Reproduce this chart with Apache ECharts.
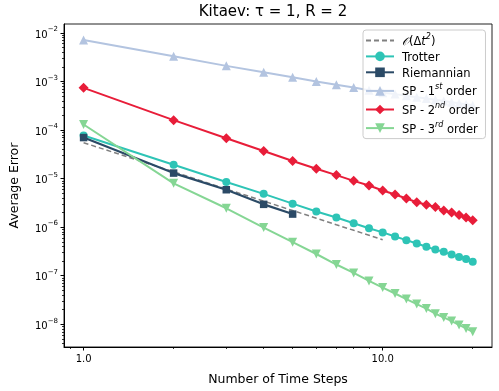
<!DOCTYPE html>
<html>
<head>
<meta charset="utf-8">
<script src="https://cdn.jsdelivr.net/npm/echarts@6/dist/echarts.min.js"></script>
<style>
  html, body { margin: 0; padding: 0; background: #fff; }
  #chart { width: 499px; height: 391px; }
</style>
</head>
<body>
<div id="chart"></div>
<script>
// ---- data ----
const steps = [1, 2, 3, 4, 5, 6, 7, 8, 9, 10, 11, 12, 13, 14, 15, 16, 17, 18, 19, 20];
const riemannSteps = [1, 2, 3, 4, 5];
const refSteps = [1, 2, 3, 4, 5, 6, 7, 8, 9, 10];

const refOrder2 = [5.5e-5, 1.38e-5, 6.1e-6, 3.45e-6, 2.2e-6, 1.53e-6, 1.12e-6, 8.6e-7, 6.8e-7, 5.5e-7];
const trotter = [7.7e-5, 1.93e-5, 8.5e-6, 4.85e-6, 3.05e-6, 2.1e-6, 1.58e-6, 1.2e-6, 9.5e-7, 7.8e-7,
  6.4e-7, 5.4e-7, 4.6e-7, 3.95e-7, 3.45e-7, 3.1e-7, 2.72e-7, 2.42e-7, 2.2e-7, 1.95e-7];
const riemannian = [7.0e-5, 1.3e-5, 5.9e-6, 2.95e-6, 1.86e-6];
const sp1 = [7.2e-3, 3.3e-3, 2.1e-3, 1.55e-3, 1.22e-3, 1.0e-3, 8.6e-4, 7.5e-4, 6.6e-4, 5.9e-4,
  5.5e-4, 5.1e-4, 4.75e-4, 4.45e-4, 4.2e-4, 3.95e-4, 3.75e-4, 3.55e-4, 3.4e-4, 3.25e-4];
const sp2 = [7.4e-4, 1.6e-4, 6.8e-5, 3.7e-5, 2.3e-5, 1.6e-5, 1.18e-5, 9.0e-6, 7.2e-6, 5.7e-6,
  4.7e-6, 3.9e-6, 3.25e-6, 2.9e-6, 2.6e-6, 2.2e-6, 2.0e-6, 1.78e-6, 1.58e-6, 1.38e-6];
const sp3 = [1.3e-4, 8.0e-6, 2.45e-6, 9.8e-7, 4.9e-7, 2.8e-7, 1.7e-7, 1.14e-7, 7.8e-8, 5.7e-8,
  4.3e-8, 3.3e-8, 2.6e-8, 2.1e-8, 1.65e-8, 1.38e-8, 1.16e-8, 9.7e-9, 8.2e-9, 7.0e-9];

const xMajor = [1, 10];
const yMajor = [1e-8, 1e-7, 1e-6, 1e-5, 1e-4, 1e-3, 1e-2];

const xMin = 0.86, xMax = 23.2;
const yMin = 3.4e-9, yMax = 1.53e-2;

// minor tick positions (2..9 of each decade)
function minorTicks(lo, hi) {
  const out = [];
  for (let k = -10; k <= 2; k++) {
    for (let m = 2; m <= 9; m++) {
      const v = m * Math.pow(10, k);
      if (v >= lo && v <= hi) out.push(v);
    }
  }
  return out;
}

const font = 'DejaVu Sans';

const chart = echarts.init(document.getElementById('chart'));

function pairs(xs, ys) {
  return xs.map((x, i) => [x, ys[i]]);
}

const legendRich = {
  n: { fontFamily: font, fontSize: 11.5, color: '#000', lineHeight: 15, verticalAlign: 'bottom' },
  i: { fontFamily: font, fontSize: 11.5, color: '#000', lineHeight: 15, verticalAlign: 'bottom', fontStyle: 'italic' },
  s: { fontFamily: font, fontSize: 8, color: '#000', lineHeight: 9, verticalAlign: 'top', fontStyle: 'italic' }
};

const legendLabels = {
  'ref': '{i|𝒪}{n|(Δ}{i|t}{s|2}{n|)}',
  'Trotter': '{n|Trotter}',
  'Riemannian': '{n|Riemannian}',
  'SP1': '{n|SP - 1}{s|st}{n| order}',
  'SP2': '{n|SP - 2}{s|nd}{n| order}',
  'SP3': '{n|SP - 3}{s|rd}{n| order}'
};

const axisCommon = {
  type: 'log',
  logBase: 10,
  splitLine: { show: false },
  minorTick: { show: false }
};

chart.setOption({
  animation: false,
  backgroundColor: '#fff',
  title: {
    text: 'Kitaev: τ = 1, R = 2',
    left: 273,
    textAlign: 'center',
    top: 5,
    padding: 0,
    textStyle: { fontFamily: font, fontSize: 15, fontWeight: 'normal', color: '#000' }
  },
  grid: {
    left: 54, right: 7, top: 24, bottom: 41,
    show: true, borderColor: '#222', borderWidth: 1, backgroundColor: 'transparent'
  },
  legend: {
    orient: 'vertical',
    left: 363,
    top: 30,
    padding: [3, 6, 3, 2],
    itemWidth: 28,
    itemHeight: 12,
    itemGap: 3.6,
    backgroundColor: 'rgba(255,255,255,0.8)',
    borderColor: '#cccccc',
    borderWidth: 1,
    borderRadius: 3,
    data: [
      { name: 'ref', itemStyle: { opacity: 0 } },
      'Trotter', 'Riemannian', 'SP1', 'SP2', 'SP3'
    ],
    formatter: name => legendLabels[name],
    textStyle: { fontFamily: font, fontSize: 11.5, color: '#000', padding: [0, 0, 0, 3], rich: legendRich }
  },
  xAxis: [
    Object.assign({}, axisCommon, {
      min: xMin, max: xMax,
      name: 'Number of Time Steps',
      nameLocation: 'middle',
      nameGap: 26,
      nameTextStyle: { fontFamily: font, fontSize: 12.5, color: '#000' },
      axisLine: { show: true, lineStyle: { color: '#000', width: 1 } },
      axisTick: { show: true, length: 3.5, lineStyle: { color: '#000' }, customValues: xMajor },
      axisLabel: {
        fontFamily: font, fontSize: 10, color: '#000', margin: 7,
        customValues: xMajor,
        formatter: v => v.toFixed(1)
      }
    }),
    Object.assign({}, axisCommon, {
      min: xMin, max: xMax,
      position: 'bottom',
      axisLine: { show: false },
      axisTick: { show: true, length: 2, lineStyle: { color: '#000', width: 0.8 }, customValues: minorTicks(xMin, xMax) },
      axisLabel: { show: false }
    })
  ],
  yAxis: [
    Object.assign({}, axisCommon, {
      min: yMin, max: yMax,
      position: 'left',
      name: 'Average Error',
      nameLocation: 'middle',
      nameGap: 43,
      nameTextStyle: { fontFamily: font, fontSize: 12.5, color: '#000' },
      axisLine: { show: true, lineStyle: { color: '#000', width: 1 } },
      axisTick: { show: true, length: 3.5, lineStyle: { color: '#000' }, customValues: yMajor },
      axisLabel: {
        margin: 6,
        customValues: yMajor,
        formatter: v => '{b|10}{s|−' + Math.round(-Math.log10(v)) + '}',
        rich: {
          b: { fontFamily: font, fontSize: 10, color: '#000', lineHeight: 14, verticalAlign: 'bottom' },
          s: { fontFamily: font, fontSize: 7, color: '#000', lineHeight: 8, verticalAlign: 'top' }
        }
      }
    }),
    Object.assign({}, axisCommon, {
      min: yMin, max: yMax,
      position: 'left',
      axisLine: { show: false },
      axisTick: { show: true, length: 2, lineStyle: { color: '#000', width: 0.8 }, customValues: minorTicks(yMin, yMax) },
      axisLabel: { show: false }
    })
  ],
  series: [
    {
      name: 'ref', type: 'line', data: pairs(refSteps, refOrder2),
      symbol: 'none', color: '#808080',
      lineStyle: { width: 1.5, type: [5, 3], color: '#808080' }
    },
    {
      name: 'Trotter', type: 'line', data: pairs(steps, trotter),
      symbol: 'circle', symbolSize: 8, color: '#2ec4b6',
      lineStyle: { width: 2 }, itemStyle: { color: '#2ec4b6' }
    },
    {
      name: 'Riemannian', type: 'line', data: pairs(riemannSteps, riemannian),
      symbol: 'rect', symbolSize: 7.5, color: '#2b4a66',
      lineStyle: { width: 2.2 }, itemStyle: { color: '#2b4a66' }
    },
    {
      name: 'SP1', type: 'line', data: pairs(steps, sp1),
      symbol: 'triangle', symbolSize: 9, color: '#b3c4e0',
      lineStyle: { width: 2 }, itemStyle: { color: '#b3c4e0' }
    },
    {
      name: 'SP2', type: 'line', data: pairs(steps, sp2),
      symbol: 'diamond', symbolSize: 10, color: '#e81d39',
      lineStyle: { width: 2 }, itemStyle: { color: '#e81d39' }
    },
    {
      name: 'SP3', type: 'line', data: pairs(steps, sp3),
      symbol: 'triangle', symbolRotate: 180, symbolSize: 9, color: '#85d694',
      lineStyle: { width: 2 }, itemStyle: { color: '#85d694' }
    }
  ]
});
</script>
</body>
</html>
